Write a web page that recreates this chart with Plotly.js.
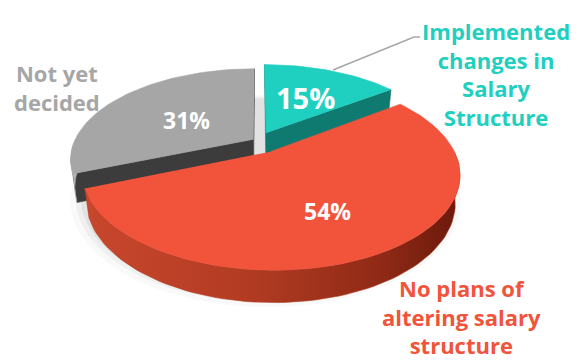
<!DOCTYPE html>
<html>
<head>
<meta charset="utf-8">
<script src="https://cdn.plot.ly/plotly-3.0.1.min.js"></script>
<style>
  html, body { margin: 0; padding: 0; background: #ffffff; }
  #chart { width: 586px; height: 363px; }
</style>
</head>
<body>
<div id="chart"></div>
<script>
// ---- Data ----
const categories = ['Implemented<br>changes in<br>Salary<br>Structure', 'No plans of<br>altering salary<br>structure', 'Not yet<br>decided'];
const values = [15, 54, 31];

// ---- Styles ----
const topColors  = ['#1FCFC0', '#F1533B', '#A6A6A6'];
const cutColors  = ['#0E7A70', '#A9381F', '#3C3C3C'];
const sideColors = ['#139A8F', '#B23C24', '#B4B4B4'];
const labelColors = ['#1FCFC0', '#F1533B', '#A6A6A6'];
const explode = [0.10, 0.14, 0.03];
const drawOrder = [0, 2, 1];

// projection (3D tilted disk, perspective)
const CX = 258, CY = 168, F = 726, XS = 0.965, DIST = 4, H = 0.17;
const ALPHA = 30 * Math.PI / 180, sa = Math.sin(ALPHA), ca = Math.cos(ALPHA);
function proj(X, Z, Y) {
  const v = Z * sa + Y * ca;
  const w = DIST + Z * ca - Y * sa;
  return [CX + F * XS * X / w, CY - F * v / w];
}
const rad = d => d * Math.PI / 180;

const total = values.reduce((a, b) => a + b, 0);
const slices = [];
let acc = 0;
values.forEach((v, i) => {
  const a0 = acc / total * 360;
  acc += v;
  const a1 = acc / total * 360;
  const mid = (a0 + a1) / 2;
  slices.push({ i, a0, a1, mid, ex: explode[i] * Math.sin(rad(mid)), ez: explode[i] * Math.cos(rad(mid)) });
});

const traces = [];
function poly(pts, color, extra) {
  const t = {
    type: 'scatter', mode: 'lines', fill: 'toself', fillcolor: color,
    x: pts.map(p => p[0]), y: pts.map(p => p[1]),
    line: { width: 0.6, color: color }, hoverinfo: 'skip', showlegend: false
  };
  return Object.assign(t, extra || {});
}
function arc(s, from, to, Y, r) {
  r = r || 1;
  const n = Math.max(4, Math.ceil(Math.abs(to - from) / 2));
  const pts = [];
  for (let k = 0; k <= n; k++) {
    const th = rad(from + (to - from) * k / n);
    pts.push(proj(s.ex + r * Math.sin(th), s.ez + r * Math.cos(th), Y));
  }
  return pts;
}

// soft shadow under the pie
[[1.07, 'rgba(0,0,0,0.025)'], [1.04, 'rgba(0,0,0,0.04)'], [1.015, 'rgba(0,0,0,0.05)']].forEach(([r, c]) => {
  const s = { ex: 0.04, ez: -0.07 };
  const pts = arc(s, 0, 360, -0.01, r);
  traces.push(poly(pts, c, { line: { width: 0 } }));
});

const camX = 0, camZ = -DIST * ca;
drawOrder.forEach(idx => {
  const s = slices[idx];
  // cut faces
  [[s.a0, -1], [s.a1, 1]].forEach(([a, sign]) => {
    const nX = sign * Math.cos(rad(a)), nZ = -sign * Math.sin(rad(a));
    const dot = nX * (camX - s.ex) + nZ * (camZ - s.ez);
    if (dot > 0) {
      const pts = [proj(s.ex, s.ez, H), arc(s, a, a, H)[0], arc(s, a, a, 0)[0], proj(s.ex, s.ez, 0)];
      traces.push(poly(pts, cutColors[idx]));
    }
  });
  // outer side (front facing part)
  const f0 = Math.max(s.a0, 90), f1 = Math.min(s.a1, 270);
  if (f1 > f0) {
    const pts = arc(s, f0, f1, H).concat(arc(s, f1, f0, 0));
    const extra = idx === 1 ? {
      fillgradient: { type: 'horizontal', colorscale: [[0, '#C8472D'], [0.45, '#B13B22'], [0.8, '#8E2915'], [1, '#6A190C']] }
    } : {};
    traces.push(poly(pts, sideColors[idx], extra));
  }
  // top face
  const top = [proj(s.ex, s.ez, H)].concat(arc(s, s.a0, s.a1, H));
  traces.push(poly(top, topColors[idx]));
});

const FONT = '"Open Sans", "Noto Sans", sans-serif';
const pctPos = [[305, 97, 29], [327, 211, 23], [186, 120, 23]];
const labelPos = [[496, 74], [461, 316], [57, 87]];
const annotations = [];
values.forEach((v, i) => {
  annotations.push({
    x: pctPos[i][0], y: pctPos[i][1], xref: 'x', yref: 'y', showarrow: false,
    text: v + '%', font: { family: FONT, size: pctPos[i][2], color: '#FFFFFF', weight: 'bold' },
    xanchor: 'center', yanchor: 'middle'
  });
  annotations.push({
    x: labelPos[i][0], y: labelPos[i][1], xref: 'x', yref: 'y', showarrow: false,
    text: categories[i], align: 'center',
    font: { family: FONT, size: 22, color: labelColors[i], weight: 'bold' },
    xanchor: 'center', yanchor: 'middle'
  });
});

const layout = {
  width: 586, height: 363,
  margin: { l: 0, r: 0, t: 0, b: 0 },
  paper_bgcolor: '#FFFFFF', plot_bgcolor: '#FFFFFF',
  xaxis: { range: [0, 586], visible: false, fixedrange: true },
  yaxis: { range: [363, 0], visible: false, fixedrange: true },
  showlegend: false,
  annotations: annotations,
  shapes: [{ type: 'path', xref: 'x', yref: 'y', path: 'M333,70 L414,37 L420,37', line: { color: '#A6A6A6', width: 1.5 } }]
};

Plotly.newPlot('chart', traces, layout, { staticPlot: true, displayModeBar: false });
</script>
</body>
</html>
